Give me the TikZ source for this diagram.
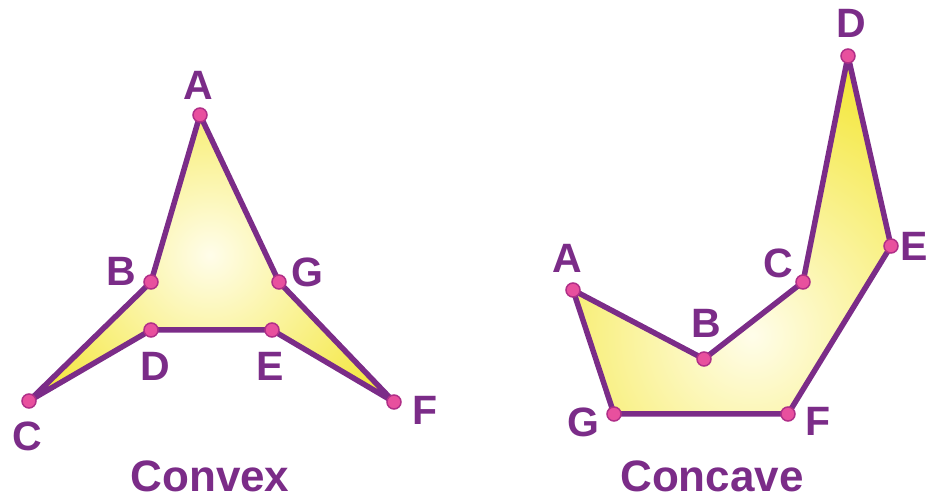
\documentclass[tikz,border=0pt]{standalone}
\usepackage{fontspec}
\setmainfont{Liberation Sans}
\definecolor{edgepurple}{HTML}{7B2C88}
\definecolor{polyyellow}{HTML}{F3E52C}
\definecolor{lightyellow}{HTML}{FFFDEA}
\definecolor{dotpink}{HTML}{E8509E}
\definecolor{dotrim}{HTML}{B02F88}
\begin{document}
\begin{tikzpicture}[x=1pt,y=-1pt,
  edge/.style={draw=edgepurple,line width=5.5pt,line join=round},
  vtx/.style={circle,inner sep=0pt,minimum size=14pt,fill=dotpink,draw=dotrim,line width=1.5pt},
  lbl/.style={inner sep=0pt,text=edgepurple,font=\fontsize{41}{45}\selectfont\bfseries},
  ttl/.style={inner sep=0pt,text=edgepurple,font=\fontsize{44}{48}\selectfont\bfseries}]
\useasboundingbox (0,0) rectangle (927,502);
% ---------- Convex (left) ----------
\coordinate (lA) at (200,115);
\coordinate (lB) at (151,282);
\coordinate (lC) at (29,401);
\coordinate (lD) at (151,330);
\coordinate (lE) at (272,330);
\coordinate (lF) at (394,402);
\coordinate (lG) at (279,282);
\fill[polyyellow] (lA) -- (lB) -- (lC) -- (lD) -- (lE) -- (lF) -- (lG) -- cycle;
\begin{scope}
\clip (lA) -- (lB) -- (lC) -- (lD) -- (lE) -- (lF) -- (lG) -- cycle;
\shade[inner color=lightyellow,outer color=polyyellow] (210,255) circle (230);
\end{scope}
\draw[edge] (lA) -- (lB) -- (lC) -- (lD) -- (lE) -- (lF) -- (lG) -- cycle;
\foreach \p in {lA,lB,lC,lD,lE,lF,lG} \node[vtx] at (\p) {};
\node[lbl] (tA) at (198,85) {A};
\node[lbl] (tB) at (121,271) {B};
\node[lbl] (tG) at (307,272) {G};
\node[lbl] (tD) at (155,366) {D};
\node[lbl] (tE) at (270,366) {E};
\node[lbl] (tC) at (27,436) {C};
\node[lbl] (tF) at (425,410) {F};
\node[ttl] (convex) at (210,476) {Convex};
% ---------- Concave (right) ----------
\coordinate (rA) at (573,290);
\coordinate (rB) at (704,359);
\coordinate (rC) at (803,282);
\coordinate (rD) at (848,56);
\coordinate (rE) at (891,246);
\coordinate (rF) at (788,414);
\coordinate (rG) at (614,414);
\fill[polyyellow] (rA) -- (rB) -- (rC) -- (rD) -- (rE) -- (rF) -- (rG) -- cycle;
\begin{scope}
\clip (rA) -- (rB) -- (rC) -- (rD) -- (rE) -- (rF) -- (rG) -- cycle;
\shade[inner color=lightyellow,outer color=polyyellow] (752,335) circle (300);
\end{scope}
\draw[edge] (rA) -- (rB) -- (rC) -- (rD) -- (rE) -- (rF) -- (rG) -- cycle;
\foreach \p in {rA,rB,rC,rD,rE,rF,rG} \node[vtx] at (\p) {};
\node[lbl] (uD) at (851,23) {D};
\node[lbl] (uE) at (914,246) {E};
\node[lbl] (uC) at (778,263) {C};
\node[lbl] (uA) at (567,258) {A};
\node[lbl] (uB) at (706,323) {B};
\node[lbl] (uG) at (583,422) {G};
\node[lbl] (uF) at (818,421) {F};
\node[ttl] (concave) at (712,476) {Concave};
\end{tikzpicture}
\end{document}
